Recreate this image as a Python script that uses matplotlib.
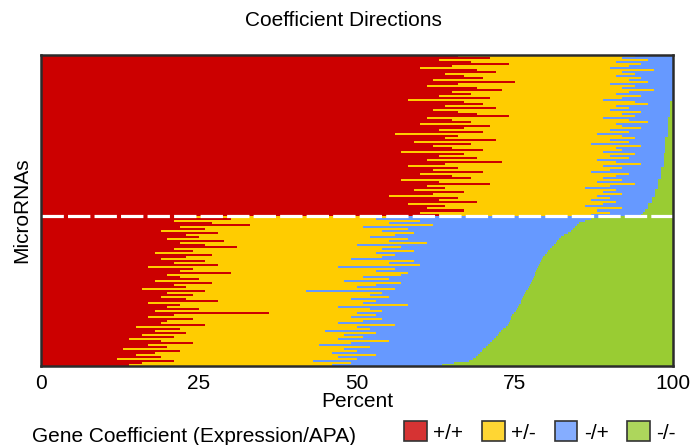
import matplotlib
matplotlib.use('Agg')
import matplotlib.pyplot as plt
from matplotlib.patches import Patch
import numpy as np

plt.rcParams['font.family'] = ['Liberation Sans', 'DejaVu Sans']

# percent of genes per microRNA in each coefficient direction
# upper block (mostly +/+), sorted by -/- share
top_pp = [66, 71, 63, 68, 74, 65, 60, 69, 72, 64,
          67, 70, 62, 75, 66, 61, 69, 73, 65, 68,
          63, 71, 58, 67, 70, 64, 72, 62, 66, 69,
          74, 61, 65, 68, 60, 71, 67, 63, 70, 56,
          66, 64, 72, 59, 68, 62, 65, 70, 57, 67,
          63, 69, 61, 73, 64, 58, 66, 62, 70, 60,
          65, 68, 57, 63, 71, 61, 64, 59, 67, 62,
          55, 66, 63, 69, 58, 64, 61, 67, 60, 63]
top_pm = [28, 21, 33, 23, 21, 28, 30, 28, 20, 30,
          24, 25, 31, 21, 24, 33, 23, 24, 28, 23,
          32, 21, 31, 27, 26, 27, 21, 28, 29, 23,
          20, 28, 28, 28, 31, 21, 28, 27, 23, 32,
          26, 30, 18, 34, 19, 33, 26, 22, 32, 27,
          27, 24, 27, 18, 31, 31, 26, 28, 17, 33,
          26, 21, 35, 25, 23, 29, 22, 32, 22, 30,
          33, 24, 24, 22, 31, 22, 31, 21, 30, 24]
top_mp = [6, 8, 4, 9, 5, 7, 10, 3, 8, 6,
          9, 5, 7, 4, 10, 6, 8, 3, 7, 9,
          5, 8, 11, 5.5, 3.5, 8.5, 6.5, 9.5, 4.5, 7.5,
          5.5, 10.2, 6.2, 3.2, 8.2, 7.2, 4.2, 9.2, 6.2, 11.2,
          7.2, 4.8, 8.8, 5.8, 11.8, 3.8, 7.8, 6.8, 9.8, 4.5,
          8.5, 5.5, 10.5, 7.5, 3.5, 9.5, 6.1, 8.1, 11.1, 5.1,
          7.1, 9.1, 5.6, 9.6, 3.6, 7.6, 11.6, 6.1, 8.1, 5.1,
          9.1, 6.6, 9.6, 5.6, 7.1, 10.1, 4.1, 7.6, 5.3, 8.0]
top_mm = [0, 0, 0, 0, 0, 0, 0, 0, 0, 0,
          0, 0, 0, 0, 0, 0, 0, 0, 0, 0,
          0, 0, 0, 0.5, 0.5, 0.5, 0.5, 0.5, 0.5, 0.5,
          0.5, 0.8, 0.8, 0.8, 0.8, 0.8, 0.8, 0.8, 0.8, 0.8,
          0.8, 1.2, 1.2, 1.2, 1.2, 1.2, 1.2, 1.2, 1.2, 1.5,
          1.5, 1.5, 1.5, 1.5, 1.5, 1.5, 1.9, 1.9, 1.9, 1.9,
          1.9, 1.9, 2.4, 2.4, 2.4, 2.4, 2.4, 2.9, 2.9, 2.9,
          2.9, 3.4, 3.4, 3.4, 3.9, 3.9, 3.9, 4.4, 4.7, 5.0]

# lower block (mixed directions), sorted by -/- share
bottom_pp = [24, 30, 21, 27, 33, 22, 26, 19, 28, 23,
             25, 20, 29, 22, 26, 31, 21, 24, 18, 27,
             23, 19, 26, 21, 28, 17, 24, 22, 30, 20,
             22, 25, 18, 27, 21, 23, 16, 26, 20, 24,
             19, 23, 28, 17, 22, 20, 25, 18, 36, 21,
             17, 24, 20, 19, 26, 15, 22, 18, 23, 16,
             21, 14, 19, 24, 17, 20, 13, 22, 18, 15,
             19, 12, 21, 16, 14]
bottom_pm = [33, 23, 39, 28, 29, 29, 32, 35, 31, 33,
             27, 38, 26, 39, 24, 26, 33, 35, 35, 29,
             31, 30, 33, 34, 32, 30, 32, 31, 28, 37,
             29, 30, 30, 30, 32, 27, 40, 16, 34, 28,
             36, 26, 25, 34, 36, 27, 27, 36, 14, 32,
             32, 30, 31, 28, 30, 35, 30, 27, 30, 32,
             30, 33, 36, 25, 27, 32, 35, 28, 28, 38,
             28, 38, 22, 33, 32]
bottom_mp = [31.5, 34, 26, 30.2, 22.8, 33.5, 26.2, 29.9, 24.4, 26.8,
             30.3, 24, 26.7, 20.5, 31.2, 23.9, 26.5, 21.2, 27, 23.8,
             25.5, 30.3, 20.1, 24, 18.8, 31.6, 22.5, 25.3, 20.2, 21.1,
             27, 22.8, 29.7, 20.5, 24.4, 27.2, 21, 34.8, 22.6, 24.5,
             21.3, 27.1, 23, 24.9, 17.7, 28.5, 23.3, 21.1, 24.9, 21.6,
             25.4, 20.3, 23.2, 27, 17.9, 23.5, 21.1, 27.8, 19.5, 24.3,
             21, 24.7, 16.3, 22, 26.7, 18.4, 22, 19.7, 23.4, 16.1,
             21.8, 18.3, 24.7, 16.3, 17.5]
bottom_mm = [11.5, 13.0, 14.0, 14.8, 15.2, 15.5, 15.8, 16.1, 16.6, 17.2,
             17.7, 18.0, 18.3, 18.5, 18.8, 19.1, 19.5, 19.8, 20.0, 20.2,
             20.5, 20.7, 20.9, 21.0, 21.2, 21.4, 21.5, 21.7, 21.8, 21.9,
             22.0, 22.2, 22.3, 22.5, 22.6, 22.8, 23.0, 23.2, 23.4, 23.5,
             23.7, 23.9, 24.0, 24.1, 24.3, 24.5, 24.7, 24.9, 25.1, 25.4,
             25.6, 25.7, 25.8, 26.0, 26.1, 26.5, 26.9, 27.2, 27.5, 27.7,
             28.0, 28.3, 28.7, 29.0, 29.3, 29.6, 30.0, 30.3, 30.6, 30.9,
             31.2, 31.7, 32.3, 34.7, 36.5]

categories = ['+/+', '+/-', '-/+', '-/-']
bar_colors = ['#CC0000', '#FFCC00', '#6699FF', '#99CC33']
legend_colors = ['#D63333', '#FFD633', '#85ADFF', '#ADD65C']
x_ticks = [0, 25, 50, 75, 100]

data = np.array([top_pp + bottom_pp,
                 top_pm + bottom_pm,
                 top_mp + bottom_mp,
                 top_mm + bottom_mm], dtype=float)
data = data / data.sum(axis=0) * 100
n_rows = data.shape[1]
rows = np.arange(n_rows)

fig = plt.figure(figsize=(6.96, 4.45), dpi=100)
ax = fig.add_axes([41 / 696, 1 - 366 / 445, 632 / 696, 311 / 445])

left = np.zeros(n_rows)
for vals, color in zip(data, bar_colors):
    ax.barh(rows, vals, left=left, height=1.0, color=color,
            linewidth=0, antialiased=False)
    left += vals

# split between the two blocks
ax.axhline(len(top_pp) - 0.5, color='white', lw=2.3, dashes=(7, 1.3))

ax.set_xlim(0, 100)
ax.set_ylim(n_rows - 0.5, -0.5)
ax.set_xticks(x_ticks)
ax.set_yticks([])
ax.tick_params(axis='x', length=0, pad=6, labelsize=15)
for s in ax.spines.values():
    s.set_color('#2b2b2b')
    s.set_linewidth(1.8)

ax.set_xlabel('Percent', fontsize=15, labelpad=-1)
ax.set_ylabel('MicroRNAs', fontsize=15, labelpad=7)
fig.text(343 / 696, 1 - 20 / 445, 'Coefficient Directions', fontsize=15,
         ha='center', va='center')

fig.text(32 / 696, 1 - 437 / 445, 'Gene Coefficient (Expression/APA)',
         fontsize=15, ha='left', va='center')
handles = [Patch(facecolor=c, edgecolor='#333333', linewidth=1.2) for c in legend_colors]
fig.legend(handles, categories, loc='center left',
           bbox_to_anchor=(404 / 696, 1 - 432 / 445), ncol=4, frameon=False,
           fontsize=15, handlelength=1.1, handleheight=1.1,
           handletextpad=0.3, columnspacing=0.9, borderpad=0, borderaxespad=0)

fig.savefig('out.png', dpi=100)
